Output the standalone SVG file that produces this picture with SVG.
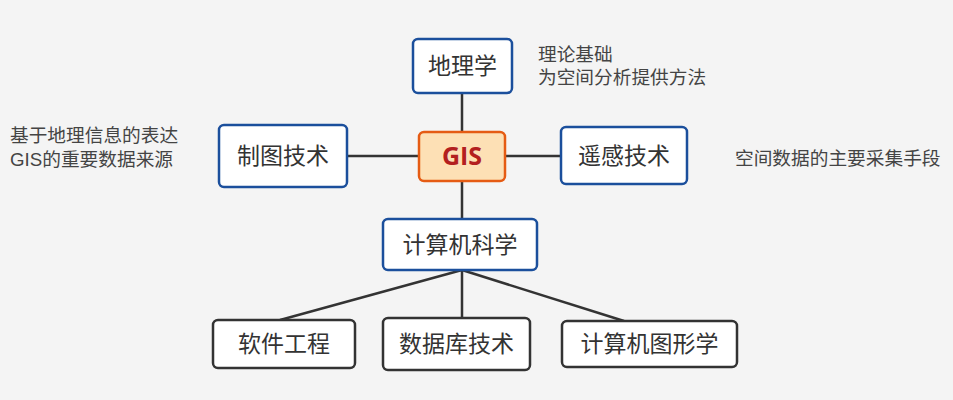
<svg xmlns="http://www.w3.org/2000/svg" width="953" height="400" viewBox="0 0 953 400">
<style>
.bg{fill:#f4f4f4}
.n rect{fill:#fff;stroke:#1b4f9c;stroke-width:2.5}
.d rect{fill:#fff;stroke:#333;stroke-width:2.5}
.g rect{fill:#fde0b5;stroke:#e55b13;stroke-width:2.5}
.n text,.d text{font-family:"Noto Sans CJK SC","Liberation Sans",sans-serif;font-size:23px;fill:#333;text-anchor:middle}
.g text{font-family:"Open Sans","Liberation Sans",sans-serif;font-size:25px;font-weight:bold;fill:#b3201f;text-anchor:middle}
.note{font-family:"Liberation Sans","Noto Sans CJK SC",sans-serif;font-size:18.7px;fill:#444}
.c line{stroke:#333;stroke-width:2.5}
</style>
<rect class="bg" x="0" y="0" width="953" height="400"/>
<g class="c">
<line x1="462" y1="93" x2="462" y2="132"/>
<line x1="347" y1="156" x2="419" y2="156"/>
<line x1="505" y1="156" x2="561" y2="156"/>
<line x1="462" y1="181" x2="462" y2="219"/>
<line x1="462" y1="270" x2="280" y2="320"/>
<line x1="462" y1="270" x2="462" y2="318"/>
<line x1="462" y1="270" x2="624" y2="321"/>
</g>
<g id="dili" class="n"><rect x="413" y="39" width="99" height="54" rx="5"/><text x="462.5" y="74">地理学</text></g>
<g id="zhitu" class="n"><rect x="219" y="125" width="128" height="62" rx="5"/><text x="283" y="164">制图技术</text></g>
<g id="gis" class="g"><rect x="419" y="132" width="86" height="49" rx="5"/><text x="462" y="165">GIS</text></g>
<g id="yaogan" class="n"><rect x="561" y="127" width="126" height="57" rx="5"/><text x="624" y="164">遥感技术</text></g>
<g id="jisuanji" class="n"><rect x="383" y="219" width="154" height="51" rx="5"/><text x="460" y="253">计算机科学</text></g>
<g id="ruanjian" class="d"><rect x="213" y="320" width="142" height="48" rx="5"/><text x="284" y="352">软件工程</text></g>
<g id="shujuku" class="d"><rect x="383" y="318" width="147" height="52" rx="5"/><text x="456.5" y="352">数据库技术</text></g>
<g id="tuxing" class="d"><rect x="562" y="321" width="175" height="46" rx="5"/><text x="649.5" y="352">计算机图形学</text></g>
<g id="notes">
<text class="note" x="538" y="61">理论基础</text>
<text class="note" x="538" y="84">为空间分析提供方法</text>
<text class="note" x="10" y="142">基于地理信息的表达</text>
<text class="note" x="10" y="166">GIS的重要数据来源</text>
<text class="note" x="735" y="165">空间数据的主要采集手段</text>
</g>
</svg>
